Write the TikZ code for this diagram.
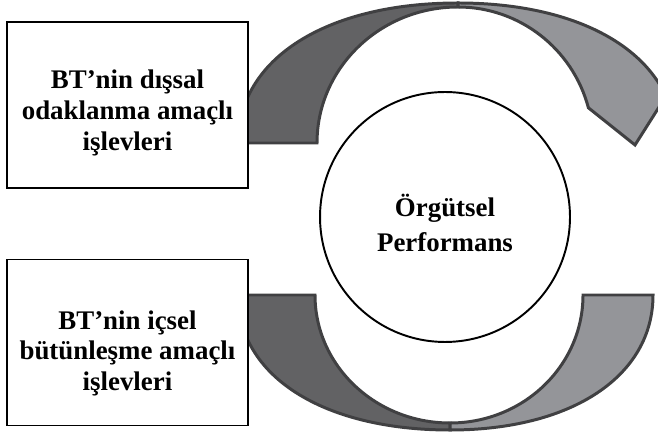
\documentclass[tikz,border=0pt]{standalone}
\usepackage{fontspec}
\setmainfont{Liberation Serif}
\usepackage{xcolor}
\usepackage{tikz}
\definecolor{koyugri}{RGB}{98,98,100}
\definecolor{acikgri}{RGB}{148,149,153}
\definecolor{kenar}{RGB}{64,64,66}

\begin{document}
\begin{tikzpicture}[x=0.02cm, y=0.02cm,
            box/.style={draw=black, line width=1.1pt, rectangle, fill=white, minimum width=4.82cm, minimum height=3.32cm, align=center, font=\fontsize{15.3}{17.6}\selectfont\bfseries},
            hub/.style={draw=black, line width=1.1pt, circle, fill=white, minimum size=5cm, align=center, font=\fontsize{15.3}{19.9}\selectfont\bfseries},
            band/.style={draw=kenar, line width=1.7pt}]

            \useasboundingbox (0,0) rectangle (658,432);

            \filldraw[band, fill=koyugri] (317,289) arc[start angle=180, end angle=90, x radius=141, y radius=136] -- (458,429) .. controls (326,429) and (238,373) .. (238,289) -- cycle;
            \filldraw[band, fill=acikgri] (588.4,324.2) arc[start angle=15, end angle=90, x radius=135, y radius=136] -- (458,429) .. controls (562.8,429) and (639.4,393.2) .. (665.9,335.8) -- (635,287) -- cycle;
            \filldraw[band, fill=koyugri] (315,137) arc[start angle=180, end angle=270, x radius=135, y radius=128] -- (450,2) .. controls (323,2) and (238,56) .. (238,137) -- cycle;
            \filldraw[band, fill=acikgri] (450,9) arc[start angle=270, end angle=360, x radius=133, y radius=128] -- (653,137) .. controls (653,56) and (572,2) .. (450,2) -- cycle;

            \node[box] (dissal) at (127.5,327) {\rule{0pt}{20pt}BT’nin dışsal\\odaklanma amaçlı\\işlevleri};
            \node[box] (icsel) at (127.5,89.5) {\rule{0pt}{23pt}BT’nin içsel\\bütünleşme amaçlı\\işlevleri};
            \node[hub] (perf) at (445,215) {\rule{0pt}{19pt}Örgütsel\\Performans};
        \end{tikzpicture}
\end{document}
